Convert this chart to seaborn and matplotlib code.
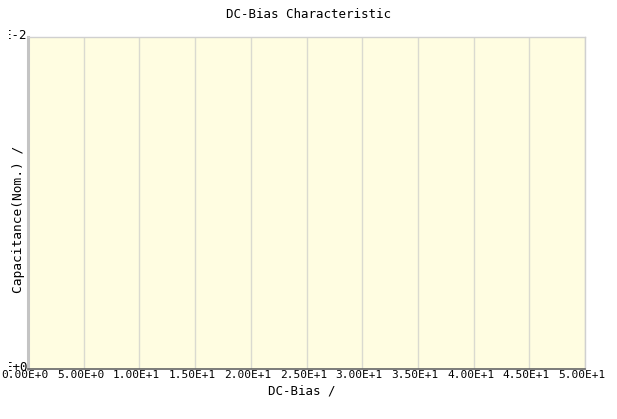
import matplotlib
matplotlib.use("Agg")
import matplotlib.pyplot as plt
import matplotlib.transforms as mtrans
import seaborn as sns
import pandas as pd
from matplotlib.transforms import Bbox, TransformedBbox

# ---- data (chart is empty: no series values) ----
dc_bias = []            # x values of the (empty) series
capacitance = []        # y values of the (empty) series
x_ticks = [0, 5, 10, 15, 20, 25, 30, 35, 40, 45, 50]
x_tick_labels = ["0.00E+0", "5.00E+0", "1.00E+1", "1.50E+1", "2.00E+1", "2.50E+1",
                 "3.00E+1", "3.50E+1", "4.00E+1", "4.50E+1", "5.00E+1"]
y_ticks = [0.0, 0.01]
y_tick_labels = ["0.00E+0", "1.00E-2"]
title = "DC-Bias Characteristic"
x_label = "DC-Bias /"
y_label = "Capacitance(Nom.) /"

sns.set_theme(style="white")
plt.rcParams["font.family"] = ["DejaVu Sans Mono", "DejaVu Sans"]

W, H = 617, 419
fig = plt.figure(figsize=(W / 100, H / 100), dpi=100)
L, R, T, B = 28, 585, 37, 369
ax = fig.add_axes([L / W, 1 - B / H, (R - L) / W, (B - T) / H])

df = pd.DataFrame({"x": pd.Series(dc_bias, dtype=float), "y": pd.Series(capacitance, dtype=float)})
sns.lineplot(data=df, x="x", y="y", ax=ax)

ax.set_facecolor("#FFFDE1")
ax.set_xlim(x_ticks[0], x_ticks[-1])
ax.set_ylim(y_ticks[0], y_ticks[-1])
ax.set_xticks(x_ticks)
ax.set_xticklabels(x_tick_labels, fontsize=8, color="black")
ax.set_yticks(y_ticks)
ax.set_yticklabels(y_tick_labels, fontsize=9, color="black")
ax.tick_params(axis="x", length=0, pad=0.5)
ax.tick_params(axis="y", length=0, pad=0.5)
ax.xaxis.grid(True, color="#DADAD0", linewidth=1)
ax.yaxis.grid(False)
ax.set_xlabel("")
ax.set_ylabel("")

xshift = mtrans.ScaledTranslation(-3 / 100, 0, fig.dpi_scale_trans)
for lab in ax.get_xticklabels():
    lab.set_transform(lab.get_transform() + xshift)
yshift = mtrans.ScaledTranslation(0, 3 / 100, fig.dpi_scale_trans)
clip = TransformedBbox(Bbox([[9 / W, 0], [1, 1]]), fig.transFigure)
for lab in ax.get_yticklabels():
    lab.set_transform(lab.get_transform() + yshift)
    lab.set_clip_box(clip)
    lab.set_clip_on(True)

for side, c, lw in [("left", "#C4C4C4", 2.2), ("bottom", "#666666", 1.2),
                    ("top", "#D0D0D0", 1.0), ("right", "#D0D0D0", 1.0)]:
    ax.spines[side].set_visible(True)
    ax.spines[side].set_color(c)
    ax.spines[side].set_linewidth(lw)

fig.text(0.5, 1 - 14 / H, title, ha="center", va="center", fontsize=9, color="black")
fig.text(302 / W, 1 - 391 / H, x_label, ha="center", va="center", fontsize=9, color="black")
fig.text(19 / W, 1 - 219 / H, y_label, ha="center", va="center", rotation=90, fontsize=9.3, color="black")

fig.savefig("out.png", dpi=100)
